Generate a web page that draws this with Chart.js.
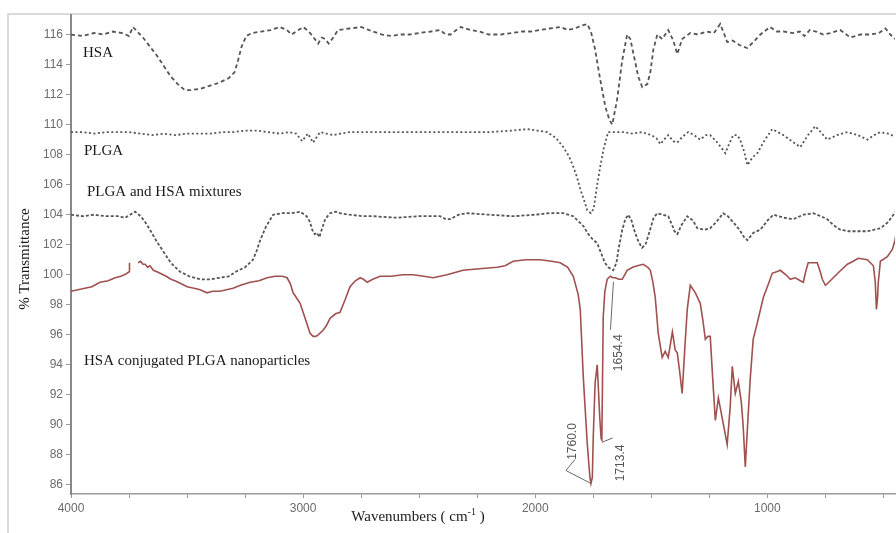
<!DOCTYPE html>
<html>
<head>
<meta charset="utf-8">
<script src="https://cdn.jsdelivr.net/npm/chart.js@4.4.1/dist/chart.umd.min.js"></script>
<style>
  html, body { margin: 0; padding: 0; background: #fff; }
  #wrap { width: 896px; height: 533px; }
</style>
</head>
<body>
<div id="wrap"><canvas id="ftir" width="896" height="533"></canvas></div>
<script>
// ----- spectra: wavenumber (cm-1) and % transmittance -----
const hsaWn = [4000, 3950, 3900, 3860, 3820, 3780, 3750, 3733, 3715, 3690, 3660, 3630, 3600, 3570, 3540, 3510, 3480, 3440, 3400, 3360, 3320, 3295, 3280, 3265, 3245, 3220, 3180, 3140, 3100, 3070, 3050, 3030, 3000, 2975, 2955, 2935, 2920, 2905, 2890, 2870, 2850, 2800, 2750, 2700, 2660, 2620, 2580, 2540, 2500, 2450, 2410, 2385, 2365, 2340, 2320, 2280, 2240, 2200, 2150, 2100, 2060, 2020, 1980, 1940, 1890, 1860, 1830, 1800, 1776, 1760, 1742, 1720, 1698, 1680, 1668, 1647, 1625, 1604, 1590, 1578, 1556, 1539, 1517, 1504, 1491, 1474, 1453, 1427, 1405, 1388, 1367, 1332, 1300, 1260, 1230, 1203, 1185, 1173, 1150, 1120, 1087, 1060, 1030, 988, 960, 930, 889, 860, 840, 817, 790, 760, 729, 686, 642, 599, 556, 520, 491, 470, 450];
const hsaT  = [116.0, 115.9, 116.1, 116.0, 116.2, 116.1, 115.9, 116.5, 116.2, 115.8, 115.2, 114.6, 113.9, 113.2, 112.7, 112.3, 112.3, 112.4, 112.6, 112.8, 113.1, 113.5, 114.3, 115.2, 115.9, 116.1, 116.2, 116.3, 116.5, 116.3, 116.0, 116.2, 116.5, 116.2, 115.8, 115.4, 115.8, 115.7, 115.4, 115.8, 116.3, 116.4, 116.5, 116.2, 116.0, 115.9, 116.0, 116.0, 116.1, 116.2, 116.3, 116.0, 116.0, 116.3, 116.5, 116.3, 116.2, 116.0, 116.0, 116.1, 116.2, 116.2, 116.3, 116.4, 116.5, 116.3, 116.4, 116.6, 116.7, 116.2, 115.0, 113.0, 111.2, 110.3, 110.0, 111.7, 114.3, 116.0, 115.7, 114.8, 113.2, 112.5, 112.7, 113.5, 115.0, 116.0, 115.7, 116.3, 115.6, 114.7, 115.7, 116.1, 116.0, 116.2, 116.1, 116.7, 116.0, 115.5, 115.6, 115.3, 115.1, 115.5, 116.0, 116.5, 116.2, 116.2, 116.1, 116.2, 115.9, 116.3, 116.2, 116.0, 116.1, 116.3, 115.8, 116.0, 116.0, 116.1, 116.4, 116.0, 115.7];

const plgaWn = [4000, 3950, 3900, 3850, 3800, 3750, 3700, 3650, 3600, 3550, 3500, 3450, 3400, 3350, 3300, 3250, 3200, 3150, 3100, 3060, 3030, 3004, 2990, 2979, 2968, 2957, 2940, 2927, 2900, 2870, 2840, 2800, 2700, 2600, 2500, 2400, 2300, 2200, 2100, 2035, 1990, 1948, 1910, 1879, 1855, 1836, 1820, 1806, 1790, 1776, 1760, 1748, 1735, 1720, 1705, 1686, 1660, 1620, 1580, 1540, 1500, 1478, 1461, 1445, 1427, 1405, 1388, 1365, 1341, 1315, 1289, 1265, 1246, 1215, 1195, 1181, 1165, 1147, 1130, 1117, 1100, 1086, 1065, 1043, 1010, 979, 955, 931, 895, 858, 825, 793, 770, 742, 700, 655, 610, 569, 540, 513, 480, 449];
const plgaT  = [109.5, 109.5, 109.4, 109.5, 109.5, 109.5, 109.4, 109.3, 109.4, 109.3, 109.4, 109.4, 109.4, 109.5, 109.5, 109.6, 109.6, 109.5, 109.4, 109.5, 109.4, 108.9, 109.2, 109.4, 109.1, 108.8, 109.2, 109.5, 109.4, 109.3, 109.4, 109.5, 109.5, 109.5, 109.5, 109.5, 109.5, 109.5, 109.6, 109.7, 109.6, 109.5, 109.1, 108.5, 107.9, 107.2, 106.5, 105.7, 105.0, 104.3, 104.1, 104.4, 105.8, 107.2, 108.4, 109.5, 109.5, 109.5, 109.4, 109.5, 109.3, 109.1, 108.7, 109.0, 109.3, 108.9, 108.8, 109.2, 109.5, 109.3, 109.0, 109.3, 109.3, 108.8, 108.4, 108.1, 108.7, 109.3, 109.3, 109.0, 108.2, 107.3, 107.8, 108.1, 109.0, 109.7, 109.5, 109.3, 108.9, 108.5, 109.3, 109.9, 109.5, 109.0, 109.3, 109.5, 109.3, 109.0, 109.3, 109.5, 109.4, 109.2];

const mixWn = [4000, 3950, 3900, 3850, 3800, 3767, 3745, 3724, 3700, 3680, 3660, 3630, 3600, 3570, 3530, 3490, 3444, 3400, 3360, 3320, 3290, 3250, 3216, 3200, 3185, 3160, 3129, 3090, 3050, 3013, 2985, 2970, 2961, 2950, 2940, 2930, 2920, 2905, 2884, 2860, 2841, 2800, 2741, 2700, 2600, 2500, 2410, 2385, 2367, 2330, 2293, 2200, 2095, 2000, 1940, 1879, 1836, 1810, 1790, 1776, 1755, 1733, 1715, 1700, 1685, 1664, 1650, 1640, 1625, 1612, 1599, 1585, 1570, 1555, 1540, 1525, 1505, 1490, 1474, 1450, 1427, 1410, 1400, 1388, 1370, 1345, 1320, 1302, 1270, 1246, 1215, 1190, 1170, 1147, 1120, 1100, 1086, 1060, 1030, 1000, 974, 930, 888, 845, 802, 770, 742, 715, 686, 650, 612, 570, 540, 513, 480, 457, 450];
const mixT  = [104.0, 103.9, 104.0, 103.9, 103.9, 103.8, 104.0, 104.2, 103.9, 103.5, 103.0, 102.2, 101.5, 100.8, 100.2, 99.9, 99.7, 99.7, 99.8, 99.9, 100.2, 100.5, 101.0, 101.6, 102.3, 103.2, 104.0, 104.1, 104.1, 104.2, 103.9, 103.5, 103.0, 102.7, 102.8, 102.5, 103.0, 103.7, 104.1, 104.2, 104.1, 104.0, 103.9, 103.9, 103.8, 103.9, 103.9, 103.7, 103.7, 104.0, 104.1, 104.0, 103.9, 104.0, 104.1, 104.1, 103.9, 103.5, 103.2, 102.8, 102.4, 102.1, 101.4, 100.8, 100.5, 100.3, 100.8, 101.8, 103.0, 103.7, 104.0, 103.6, 102.8, 102.2, 101.8, 102.0, 103.0, 103.8, 104.1, 104.0, 103.9, 103.3, 102.9, 102.7, 103.3, 103.9, 103.6, 103.1, 103.0, 103.1, 103.6, 104.1, 103.9, 103.5, 103.0, 102.5, 102.3, 102.8, 103.0, 103.6, 104.0, 103.8, 103.7, 104.0, 104.1, 103.9, 103.7, 103.3, 103.0, 102.9, 102.9, 102.9, 103.0, 103.1, 103.5, 104.0, 104.2];

// null marks the break in the trace near 3735
const npWn = [4000, 3970, 3940, 3910, 3875, 3840, 3810, 3785, 3770, 3759, 3750, 3748, 3735, 3711, 3700, 3690, 3681, 3670, 3660, 3645, 3630, 3616, 3590, 3570, 3552, 3525, 3500, 3470, 3444, 3414, 3390, 3358, 3330, 3302, 3270, 3228, 3190, 3155, 3121, 3090, 3069, 3055, 3043, 3030, 3013, 3000, 2985, 2970, 2957, 2945, 2935, 2914, 2900, 2884, 2860, 2841, 2820, 2798, 2775, 2754, 2740, 2724, 2700, 2668, 2620, 2570, 2526, 2480, 2440, 2380, 2311, 2240, 2164, 2130, 2095, 2040, 1979, 1930, 1892, 1860, 1836, 1815, 1806, 1793, 1776, 1765, 1760, 1754, 1750, 1742, 1733, 1729, 1722, 1716, 1713, 1707, 1700, 1690, 1677, 1665, 1655, 1640, 1625, 1604, 1580, 1560, 1535, 1515, 1504, 1493, 1483, 1470, 1453, 1440, 1427, 1409, 1397, 1388, 1378, 1367, 1356, 1345, 1332, 1310, 1289, 1278, 1267, 1256, 1246, 1235, 1224, 1211, 1195, 1173, 1160, 1151, 1138, 1125, 1112, 1104, 1095, 1085, 1074, 1061, 1040, 1017, 995, 979, 960, 944, 920, 901, 880, 858, 845, 835, 824, 800, 785, 772, 763, 750, 735, 716, 690, 655, 630, 608, 569, 543, 535, 530, 525, 522, 513, 483, 461, 450, 445];
const npT  = [98.9, 99.0, 99.1, 99.2, 99.5, 99.6, 99.8, 99.9, 100.0, 100.1, 100.2, 100.8, null, 100.8, 100.9, 100.7, 100.7, 100.5, 100.6, 100.3, 100.2, 100.1, 99.9, 99.7, 99.6, 99.4, 99.2, 99.1, 99.0, 98.8, 98.9, 98.9, 99.0, 99.1, 99.3, 99.5, 99.6, 99.8, 99.9, 99.9, 99.8, 99.4, 98.8, 98.5, 98.1, 97.5, 96.8, 96.1, 95.9, 95.9, 96.0, 96.3, 96.6, 97.1, 97.4, 97.5, 98.3, 99.2, 99.6, 99.8, 99.7, 99.5, 99.7, 99.9, 99.9, 100.0, 100.0, 99.9, 99.8, 100.0, 100.3, 100.4, 100.5, 100.6, 100.9, 101.0, 101.0, 100.9, 100.8, 100.5, 99.9, 98.7, 97.7, 93.2, 88.8, 86.6, 86.1, 86.5, 89.2, 92.8, 94.0, 92.8, 90.5, 89.1, 89.0, 97.2, 98.9, 99.7, 99.9, 99.8, 99.8, 99.7, 99.7, 100.3, 100.5, 100.6, 100.7, 100.5, 100.3, 99.5, 98.5, 96.1, 94.5, 94.9, 94.5, 96.2, 95.0, 94.8, 93.6, 92.1, 95.0, 97.7, 99.3, 98.8, 98.1, 97.0, 95.7, 95.9, 95.9, 93.0, 90.3, 91.8, 90.5, 88.7, 91.2, 93.9, 92.1, 92.9, 91.5, 89.9, 87.2, 90.0, 93.0, 95.7, 97.0, 98.5, 99.4, 100.1, 100.2, 100.3, 100.0, 99.7, 99.8, 99.6, 99.5, 100.2, 100.8, 100.8, 100.8, 100.2, 99.7, 99.3, 99.5, 99.8, 100.2, 100.7, 100.9, 101.1, 101.0, 100.6, 99.5, 97.7, 98.5, 99.5, 100.9, 101.2, 101.7, 102.3, 102.8];

const seriesNames = ["HSA", "PLGA", "PLGA and HSA mixtures", "HSA conjugated PLGA nanoparticles"];
const xTickLabels = [4000, 3000, 2000, 1000];
const xTickMarks = [4000, 3750, 3500, 3250, 3000, 2750, 2500, 2250, 2000, 1750, 1500, 1250, 1000, 750, 500];
const yTickLabels = [86, 88, 90, 92, 94, 96, 98, 100, 102, 104, 106, 108, 110, 112, 114, 116];
const peakWn = [1760.0, 1713.4, 1654.4];
const peakT  = [86.1, 89.0, 99.8];

const toPoints = (wn, t) => wn.map((w, i) => ({ x: w, y: t[i] }));

const serif = '"Liberation Serif", "Times New Roman", serif';
const sans  = '"Liberation Sans", Arial, sans-serif';

// ----- frame, curve names, axis titles, peak marks -----
const decorations = {
  id: "decorations",
  beforeDraw(chart) {
    const ctx = chart.ctx;
    ctx.save();
    ctx.strokeStyle = "#d0d0d0";
    ctx.lineWidth = 1.5;
    ctx.beginPath();
    ctx.moveTo(8, chart.height);
    ctx.lineTo(8, 14);
    ctx.lineTo(chart.width, 14);
    ctx.stroke();
    ctx.restore();
  },
  afterDraw(chart) {
    const { ctx, scales: { x, y } } = chart;
    ctx.save();

    // curve names
    const spots = [[83, 53], [84, 151], [87, 192], [84, 361]];
    ctx.fillStyle = "#1a1a1a";
    ctx.font = `15px ${serif}`;
    ctx.textBaseline = "middle";
    ctx.textAlign = "left";
    seriesNames.forEach((n, i) => ctx.fillText(n, spots[i][0], spots[i][1]));

    // y title
    ctx.save();
    ctx.translate(25, 259);
    ctx.rotate(-Math.PI / 2);
    ctx.textAlign = "center";
    ctx.fillText("% Transmittance", 0, 0);
    ctx.restore();

    // x title with superscript
    const a = "Wavenumbers ( cm", sup = "-1", b = " )";
    ctx.font = `15px ${serif}`;
    const wa = ctx.measureText(a).width, wb = ctx.measureText(b).width;
    ctx.font = `10px ${serif}`;
    const ws = ctx.measureText(sup).width;
    let cx = 418 - (wa + ws + wb) / 2;
    ctx.textAlign = "left";
    ctx.font = `15px ${serif}`;
    ctx.fillText(a, cx, 517);
    ctx.font = `10px ${serif}`;
    ctx.fillText(sup, cx + wa, 512);
    ctx.font = `15px ${serif}`;
    ctx.fillText(b, cx + wa + ws, 517);

    // peak labels with leader lines
    const leaders = [
      [[0, 0], [-25, -13], [-16, -24]],
      [[1, 2], [11, -2]],
      [[-2, 4], [-5, 52]],
    ];
    const textAt = [[-18, -42], [19, 23], [3, 75]];
    ctx.strokeStyle = "#6a6a6a";
    ctx.lineWidth = 1;
    ctx.fillStyle = "#555";
    ctx.font = `12px ${sans}`;
    peakWn.forEach((w, i) => {
      const px = x.getPixelForValue(w), py = y.getPixelForValue(peakT[i]);
      ctx.beginPath();
      leaders[i].forEach(([dx, dy], k) => k ? ctx.lineTo(px + dx, py + dy) : ctx.moveTo(px + dx, py + dy));
      ctx.stroke();
      ctx.save();
      ctx.translate(px + textAt[i][0], py + textAt[i][1]);
      ctx.rotate(-Math.PI / 2);
      ctx.textAlign = "center";
      ctx.textBaseline = "middle";
      ctx.fillText(w.toFixed(1), 0, 0);
      ctx.restore();
    });

    ctx.restore();
  },
};

const dashed = (wn, t, dash) => ({
  data: toPoints(wn, t),
  borderColor: "#555",
  borderWidth: 1.8,
  borderDash: dash,
  pointRadius: 0,
  tension: 0,
});

new Chart(document.getElementById("ftir"), {
  type: "line",
  data: {
    datasets: [
      { label: seriesNames[0], ...dashed(hsaWn, hsaT, [4, 3]) },
      { label: seriesNames[1], ...dashed(plgaWn, plgaT, [2, 2.5]) },
      { label: seriesNames[2], ...dashed(mixWn, mixT, [3, 2]) },
      {
        label: seriesNames[3],
        data: toPoints(npWn, npT),
        borderColor: "#a0514f",
        borderWidth: 1.6,
        pointRadius: 0,
        tension: 0,
        spanGaps: false,
      },
    ],
  },
  options: {
    responsive: false,
    animation: false,
    devicePixelRatio: 1,
    layout: { padding: { left: 0, top: 15, right: 1, bottom: 0 } },
    plugins: { legend: { display: false }, tooltip: { enabled: false } },
    scales: {
      x: {
        type: "linear",
        reverse: true,
        min: 450,
        max: 4000,
        afterFit: (s) => { s.height = 39; },
        afterBuildTicks: (s) => { s.ticks = xTickMarks.map((v) => ({ value: v })); },
        ticks: {
          autoSkip: false,
          maxRotation: 0,
          padding: 3,
          color: "#6b6b6b",
          font: { family: sans, size: 12 },
          callback: (v) => (xTickLabels.includes(v) ? String(v) : ""),
        },
        grid: { drawOnChartArea: false, drawTicks: true, tickLength: 4, color: "#999" },
        border: { color: "#9a9a9a", width: 1.5 },
      },
      y: {
        min: 85.4,
        max: 117.3,
        afterFit: (s) => { s.width = 71; },
        afterBuildTicks: (s) => { s.ticks = yTickLabels.map((v) => ({ value: v })); },
        ticks: {
          padding: 3,
          color: "#6b6b6b",
          font: { family: sans, size: 12 },
        },
        grid: { drawOnChartArea: false, drawTicks: true, tickLength: 5, color: "#999" },
        border: { color: "#888", width: 2, dash: [2, 2] },
      },
    },
  },
  plugins: [decorations],
});
</script>
</body>
</html>
